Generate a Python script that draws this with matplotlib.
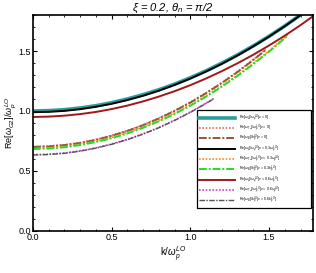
import numpy as np
import matplotlib.pyplot as plt
from matplotlib.ticker import MultipleLocator

plt.rcParams['font.family'] = ['Liberation Sans', 'DejaVu Sans']
plt.rcParams['mathtext.fontset'] = 'custom'
plt.rcParams['mathtext.rm'] = 'Liberation Sans'
plt.rcParams['mathtext.it'] = 'Liberation Sans:italic'

# values (k / omega_p^LO)
k_full = [0.0, 0.1, 0.2, 0.3, 0.4, 0.5, 0.6, 0.7, 0.8, 0.9, 1.0, 1.1, 1.2, 1.3, 1.4, 1.5, 1.6, 1.7]
k_red = k_full + [1.8]
k_nu0 = [0.0, 0.1, 0.2, 0.3, 0.4, 0.5, 0.6, 0.7, 0.8, 0.9, 1.0, 1.1, 1.2, 1.3, 1.4, 1.48]
k_nu3 = [0.0, 0.1, 0.2, 0.3, 0.4, 0.5, 0.6, 0.7, 0.8, 0.9, 1.0, 1.1, 1.2, 1.3, 1.4, 1.5, 1.6, 1.62]
k_nu6 = [0.0, 0.1, 0.2, 0.3, 0.4, 0.5, 0.6, 0.7, 0.8, 0.9, 1.0, 1.1, 1.15]

L_nu0 = [1.000, 1.003, 1.011, 1.025, 1.044, 1.069, 1.100, 1.136, 1.177, 1.224,
         1.277, 1.335, 1.399, 1.468, 1.543, 1.623, 1.709, 1.801]
TR_nu0 = [0.704, 0.708, 0.719, 0.737, 0.763, 0.797, 0.837, 0.885, 0.941, 1.004,
          1.074, 1.152, 1.237, 1.329, 1.429, 1.514]
B_nu0 = [0.700, 0.704, 0.715, 0.733, 0.759, 0.793, 0.833, 0.881, 0.937, 1.000,
         1.070, 1.148, 1.233, 1.325, 1.425, 1.510]
L_nu3 = [0.990, 0.993, 1.001, 1.015, 1.035, 1.060, 1.091, 1.127, 1.169, 1.217,
         1.270, 1.329, 1.393, 1.463, 1.539, 1.620, 1.707, 1.799]
TR_nu3 = [0.690, 0.694, 0.704, 0.723, 0.748, 0.780, 0.820, 0.867, 0.921, 0.982,
          1.051, 1.127, 1.210, 1.300, 1.398, 1.502, 1.614, 1.637]
B_nu3 = [0.683, 0.687, 0.697, 0.716, 0.741, 0.773, 0.813, 0.860, 0.914, 0.975,
         1.044, 1.120, 1.203, 1.293, 1.391, 1.495, 1.607, 1.630]
L_nu6 = [0.950, 0.953, 0.961, 0.974, 0.992, 1.016, 1.045, 1.080, 1.120, 1.165,
         1.215, 1.271, 1.332, 1.398, 1.469, 1.546, 1.628, 1.716, 1.809]
TR_nu6 = [0.636, 0.640, 0.650, 0.668, 0.693, 0.725, 0.764, 0.810, 0.863, 0.924,
          0.991, 1.066, 1.105]
B_nu6 = [0.633, 0.637, 0.647, 0.665, 0.690, 0.722, 0.761, 0.807, 0.860, 0.921,
         0.988, 1.063, 1.102]

labels = [
    r'Re[$\omega_L$]/$\omega_p^{LO}$[$\nu$ = 0]',
    r'Re[$\omega_{T_R}$]/$\omega_p^{LO}$[$\nu$ = 0]',
    r'Re[$\omega_B$]/$k_p^{LO}$[$\nu$ = 0]',
    r'Re[$\omega_L$]/$\omega_p^{LO}$[$\nu$ = 0.3$\omega_p^{LO}$]',
    r'Re[$\omega_{T_R}$]/$\omega_p^{LO}$[$\nu$ = 0.3$\omega_p^{LO}$]',
    r'Re[$\omega_B$]/$k_p^{LO}$[$\nu$ = 0.3$k_p^{LO}$]',
    r'Re[$\omega_L$]/$\omega_p^{LO}$[$\nu$ = 0.6$\omega_p^{LO}$]',
    r'Re[$\omega_{T_R}$]/$\omega_p^{LO}$[$\nu$ = 0.6$\omega_p^{LO}$]',
    r'Re[$\omega_B$]/$k_p^{LO}$[$\nu$ = 0.6$k_p^{LO}$]',
]

fig = plt.figure(figsize=(3.16, 2.73), dpi=100)
ax = fig.add_axes([0.104, 0.154, 0.887, 0.791])

ax.plot(k_full, L_nu0, color='#2b9c9c', lw=2.6, label=labels[0])
ax.plot(k_nu0, TR_nu0, color='#e86a6a', lw=1.2, ls=(0, (1, 1)), label=labels[1])
ax.plot(k_nu0, B_nu0, color='#8c5a30', lw=1.4, ls=(0, (4, 1, 1, 1)), label=labels[2])
ax.plot(k_full, L_nu3, color='black', lw=1.4, label=labels[3])
ax.plot(k_nu3, TR_nu3, color='#ff8c1a', lw=1.2, ls=(0, (1, 1)), label=labels[4])
ax.plot(k_nu3, B_nu3, color='#22dd22', lw=1.4, ls=(0, (4, 1, 1, 1)), label=labels[5])
ax.plot(k_red, L_nu6, color='#a01818', lw=1.4, label=labels[6])
ax.plot(k_nu6, TR_nu6, color='#e033e0', lw=1.2, ls=(0, (1, 1)), label=labels[7])
ax.plot(k_nu6, B_nu6, color='#555555', lw=1.0, ls=(0, (4, 1, 1, 1)), label=labels[8])

ax.set_xlim(0, 1.78)
ax.set_ylim(0, 1.8)
ax.xaxis.set_major_locator(MultipleLocator(0.5))
ax.xaxis.set_minor_locator(MultipleLocator(0.1))
ax.yaxis.set_major_locator(MultipleLocator(0.5))
ax.yaxis.set_minor_locator(MultipleLocator(0.1))
ax.tick_params(which='both', direction='in', top=True, right=True, labelsize=6.5, pad=1.5)
ax.tick_params(which='major', length=3, width=0.8)
ax.tick_params(which='minor', length=1.5, width=0.6)
for s in ax.spines.values():
    s.set_linewidth(1.2)

ax.set_title(r'$\xi$ = 0.2, $\theta_n$ = $\pi$/2', fontsize=8, style='italic', pad=2)
ax.set_xlabel(r'k/$\omega_p^{LO}$', fontsize=7, labelpad=2)
ax.set_ylabel(r'Re[$\omega_{G2}$]/$\omega_p^{LO}$', fontsize=6.5)
ax.yaxis.set_label_coords(-0.054, 0.5)

leg = ax.legend(loc='lower left', bbox_to_anchor=(0.579, 0.097, 0.418, 0.422),
                mode='expand', fontsize=2.6, handlelength=10.0, labelspacing=-0.35,
                borderpad=0.5, handletextpad=1.2, fancybox=False, framealpha=1,
                edgecolor='black')
leg.get_frame().set_linewidth(0.9)

fig.savefig('out.png', dpi=100)
